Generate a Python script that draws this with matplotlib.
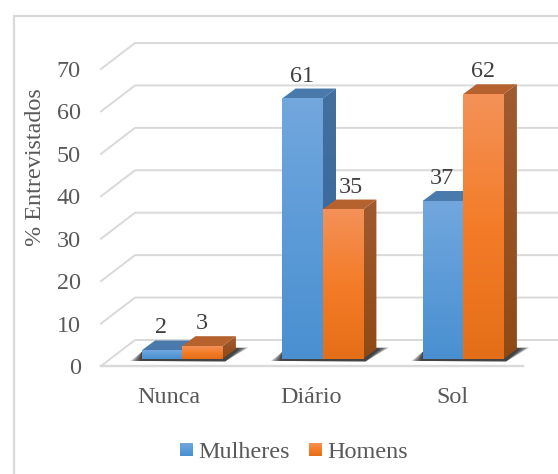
import numpy as np
import matplotlib
matplotlib.use('Agg')
import matplotlib.pyplot as plt
from matplotlib.colors import to_rgb
from matplotlib.patches import Polygon
from matplotlib.transforms import Affine2D

categories = ['Nunca', 'Diário', 'Sol']
mulheres = [2, 61, 37]
homens = [3, 35, 62]
yticks = [0, 10, 20, 30, 40, 50, 60, 70]

W, H = 558, 474
FS = 17.4
plt.rcParams['font.family'] = ['Liberation Serif', 'DejaVu Serif']
GREY = '#595959'
DARK = '#404040'
GRID = '#d9d9d9'


def px_axes(fig, left, right, top, bottom):
    # axes placed by pixel edges, y measured from the top
    return fig.add_axes([left / W, 1 - bottom / H, (right - left) / W, (bottom - top) / H])


def shift(dx, dy):
    return Affine2D().translate(dx, dy)


def ramp(stops, n=64):
    # vertical colour ramp through evenly spaced stops, first stop on top
    rgb = np.array([to_rgb(c) for c in stops])
    pos = np.linspace(0, 1, len(stops))
    t = np.linspace(0, 1, n)
    return np.stack([np.interp(t, pos, rgb[:, j]) for j in range(3)], axis=1)[:, None, :]


fig = plt.figure(figsize=(W / 100, H / 100), dpi=100, facecolor='white')

# frame of the chart area, it runs off the right and bottom edges
bg = fig.add_axes([0, 0, 1, 1])
bg.axis('off')
bg.plot([14, 14, W], [H, 16, 16], color=GRID, lw=1.6, solid_joinstyle='miter')

# floor and back wall
wall = px_axes(fig, 101, 523, 69, 366)
wall.set_xlim(-0.5, 2.5)
wall.set_ylim(0, 70)
wall.axis('off')
xd = 34 / 140.67
yd = 26 * 70 / 297
for v in yticks:
    wall.plot([-0.5, -0.5 + xd, 2.5 + xd + 0.01], [v, v + yd, v + yd], color=GRID, lw=1.4, clip_on=False, zorder=1)
    wall.text(-0.5, v, str(v), transform=wall.transData + shift(-20, 0), ha='right', va='center_baseline',
              fontsize=FS, color=GREY)
wall.plot([-0.5, 2.5], [0, 0], color=GRID, lw=1.7, clip_on=False, zorder=1)
label_dx = [-2.5, -0.5, -0.5]
for i, c in enumerate(categories):
    wall.text(i, 0, c, transform=wall.transData + shift(label_dx[i], -29), ha='center', va='center_baseline',
              fontsize=FS, color=GREY)

# bars stand a little behind the front edge of the floor
bars = px_axes(fig, 111.75, 533.25, 359 - 70 * 4.27, 359)
bars.axis('off')

bw = 40.4 / 140.5
dx = 13.5 / 140.5
dy = 10 / 4.27

# soft cast shadow on the floor
for i in range(3):
    x0, x1 = i - bw, i + bw
    for k in range(8):
        g = k * 0.01
        pts = [(x0 - 0.08 + g, -0.45), (x1 + 0.02, -0.55), (x1 + dx + 0.09 - g, dy + 0.35 - k * 0.04),
               (x1, dy + 0.35), (x0, dy * 0.7)]
        bars.add_patch(Polygon(pts, closed=True, fc='#1f1f1f', ec='none', alpha=0.2, zorder=2, clip_on=False))

series = [
    (mulheres, -1, ['#72a7dd', '#5c9bd8', '#4a90d0'], '#4a7aab', ['#44709f', '#35649a']),
    (homens, 0, ['#f39158', '#f47c28', '#e56e18'], '#b5622f', ['#a05a30', '#8f4a14']),
]
# draw bar by bar from left to right so nearer faces cover the sides
for i in range(3):
    for vals, off, front, cap, side in series:
        v = vals[i]
        x0, x1 = i + off * bw, i + (off + 1) * bw
        bars.add_patch(Polygon([(x0, v), (x1, v), (x1 + dx, v + dy), (x0 + dx, v + dy)], fc=cap, ec='none', zorder=3))
        face = Polygon([(x1, 0), (x1, v), (x1 + dx, v + dy), (x1 + dx, dy)], fc='none', ec='none')
        bars.add_patch(face)
        im = bars.imshow(ramp(side), extent=(x1, x1 + dx, 0, v + dy), origin='upper', aspect='auto', zorder=3)
        im.set_clip_path(face)
        bars.imshow(ramp(front), extent=(x0, x1, 0, v), origin='upper', aspect='auto', zorder=4)
bars.set_xlim(-0.5, 2.5)
bars.set_ylim(0, 70)

# value labels sit above each bar; the 35 is nudged clear of the taller bar
nudge = {(1, 1): 8}
for s, vals in enumerate([mulheres, homens]):
    for i, v in enumerate(vals):
        xc = i + (s - 0.5) * bw
        bars.text(xc, v, str(v), transform=bars.transData + shift(nudge.get((s, i), -0.5), 25),
                  ha='center', va='center_baseline', fontsize=FS, color=DARK, zorder=6, clip_on=False)

# axis title
bg.text(36, 167, '% Entrevistados', rotation=90, ha='center', va='center', fontsize=FS, color=GREY)

# legend
for x, front, lab in [(180, series[0][2], 'Mulheres'), (309, series[1][2], 'Homens')]:
    bg.imshow(ramp(front, 32), extent=(x, x + 13, 456, 443), origin='upper', aspect='auto', zorder=3)
    bg.text(x + 18, 450, lab, ha='left', va='center_baseline', fontsize=FS, color=GREY)
bg.set_xlim(0, W)
bg.set_ylim(H, 0)

fig.savefig('out.png', dpi=100, facecolor='white')
